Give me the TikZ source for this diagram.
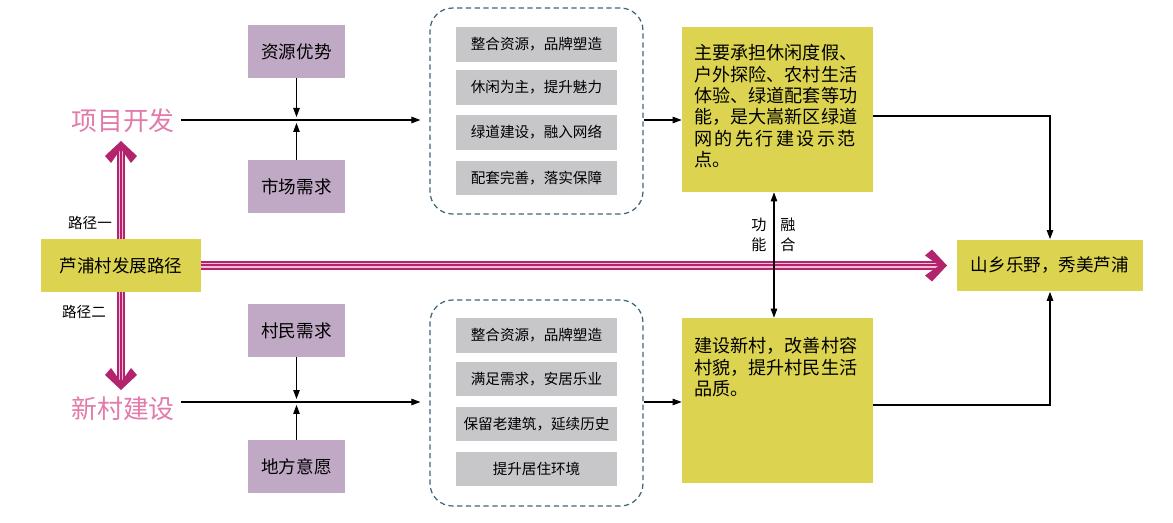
\documentclass[tikz,border=0pt]{standalone}
\usepackage{fontspec}
\setmainfont{Noto Sans CJK SC}
\usetikzlibrary{arrows.meta}

\definecolor{lilac}{HTML}{C0A9C5}
\definecolor{olive}{HTML}{DCD450}
\definecolor{greybox}{HTML}{C7C7C9}
\definecolor{frame}{HTML}{3F6577}
\definecolor{route}{HTML}{B3246F}
\definecolor{stripe}{HTML}{F4BCD6}
\definecolor{rosetext}{HTML}{E27BAA}

\tikzset{
  factor/.style={rectangle, fill=lilac, minimum width=1.94cm, minimum height=1.06cm, font=\fontsize{10pt}{12pt}\selectfont},
  measure/.style={rectangle, fill=greybox, minimum width=3.22cm, minimum height=0.7cm, font=\fontsize{8.3pt}{10pt}\selectfont},
  group/.style={rectangle, draw=frame, dash pattern=on 3pt off 2pt, line width=0.7pt, rounded corners=0.45cm, minimum width=4.26cm, minimum height=4.12cm},
  result/.style={rectangle, fill=olive, minimum width=3.82cm, minimum height=3.3cm},
  branch/.style={text=rosetext, font=\fontsize{14.7pt}{16pt}\selectfont},
  note/.style={font=\fontsize{10.3pt}{12.2pt}\selectfont, align=left, anchor=north west, inner sep=0pt},
  arr/.style={->, line width=0.6pt},
  magline/.style={route, line width=5.1pt, postaction={draw=stripe, double=route, double distance=1.14pt, line width=0.85pt}},
  chevron/.pic={\fill[route] (0,0) -- (-15,-16) -- (-22,-10) -- (-8,0) -- (-22,10) -- (-15,16) -- cycle;}
}

\begin{document}
\begin{tikzpicture}[x=0.02cm, y=-0.02cm, >={Triangle[length=1.8mm,width=1.3mm]}]
    \useasboundingbox (0,0) rectangle (1173,523);

    % start and goal
    \node[rectangle, fill=olive, minimum width=3.2cm, minimum height=1.06cm, font=\fontsize{10pt}{12pt}\selectfont] (hub) at (121,265.5) {芦浦村发展路径};
    \node[rectangle, fill=olive, minimum width=3.72cm, minimum height=1.04cm, font=\fontsize{10pt}{12pt}\selectfont] (goal) at (1050,265.5) {山乡乐野，秀美芦浦};

    \node[branch] (proj) at (123,121) {项目开发};
    \node[branch] (newv) at (123,409) {新村建设};
    \node[font=\fontsize{8.3pt}{10pt}\selectfont] (path1) at (90,223) {路径一};
    \node[font=\fontsize{8.3pt}{10pt}\selectfont] (path2) at (84,312) {路径二};

    % upper branch
    \node[factor] (res) at (296.5,51.5) {资源优势};
    \node[factor] (mkt) at (296.5,186.5) {市场需求};
    \node[group] (topgrp) at (536.5,111) {};
    \node[measure] (t1) at (536.5,44.5) {整合资源，品牌塑造};
    \node[measure] (t2) at (536.5,87.5) {休闲为主，提升魅力};
    \node[measure] (t3) at (536.5,132.5) {绿道建设，融入网络};
    \node[measure] (t4) at (536.5,178) {配套完善，落实保障};
    \node[result] (topinfo) at (777.5,109.5) {};
    \node[note] (toptext) at (694,44) {主要承担休闲度假、\\户外探险、农村生活\\体验、绿道配套等功\\能，是大嵩新区绿道\\{\addfontfeature{LetterSpace=13}网的先行建设示范}\\点。};

    % lower branch
    \node[factor] (vil) at (296.5,330.5) {村民需求};
    \node[factor] (loc) at (296.5,466.5) {地方意愿};
    \node[group] (botgrp) at (536.5,403) {};
    \node[measure] (b1) at (536.5,335.5) {整合资源，品牌塑造};
    \node[measure] (b2) at (536.5,379) {满足需求，安居乐业};
    \node[measure] (b3) at (536.5,424) {保留老建筑，延续历史};
    \node[measure] (b4) at (536.5,469) {提升居住环境};
    \node[result] (botinfo) at (777.5,400.5) {};
    \node[note] (bottext) at (694,337) {建设新村，改善村容\\村貌，提升村民生活\\品质。};

    \node[align=center, font=\fontsize{8.6pt}{11.4pt}\selectfont] (gong) at (759,235) {功\\能};
    \node[align=center, font=\fontsize{8.6pt}{11.4pt}\selectfont] (rong) at (788,235) {融\\合};

    \coordinate (jtop) at (296.5,120);
    \coordinate (jbot) at (296.5,402);
    \coordinate (uptip) at (121,141);
    \coordinate (downtip) at (121,390);
    \coordinate (righttip) at (947,265.5);

    % routes
    \draw[magline, shorten >=0.16cm] (hub.north) -- (uptip);
    \draw[magline, shorten >=0.16cm] (hub.south) -- (downtip);
    \draw[magline, shorten >=0.16cm] (hub.east) -- (righttip);
    \pic[rotate=90] at (uptip) {chevron};
    \pic[rotate=-90] at (downtip) {chevron};
    \pic at (righttip) {chevron};

    \draw[arr, shorten >=0.18cm] (proj.east |- jtop) -- (topgrp.west |- jtop);
    \draw[arr, shorten >=0.06cm] (res) -- (jtop);
    \draw[arr, shorten >=0.06cm] (mkt) -- (jtop);
    \draw[arr] (topgrp.east |- jtop) -- (topinfo.west |- jtop);
    \draw[arr] ([yshift=-0.13cm]topinfo.east) -| (goal.north);

    \draw[arr, shorten >=0.18cm] (newv.east |- jbot) -- (botgrp.west |- jbot);
    \draw[arr, shorten >=0.06cm] (vil) -- (jbot);
    \draw[arr, shorten >=0.06cm] (loc) -- (jbot);
    \draw[arr] (botgrp.east |- jbot) -- (botinfo.west |- jbot);
    \draw[arr] ([yshift=-0.09cm]botinfo.east) -| (goal.south);

    \draw[arr, <->] ([xshift=-0.07cm]topinfo.south) -- ([xshift=-0.07cm]botinfo.north);
\end{tikzpicture}
\end{document}
